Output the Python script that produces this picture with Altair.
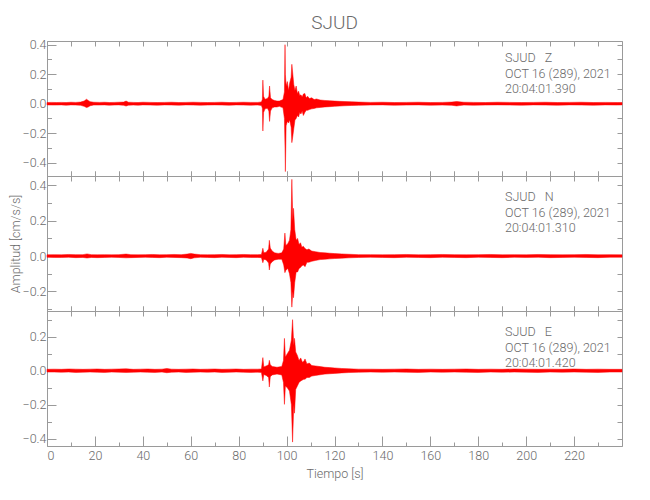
import altair as alt
import pandas as pd

FONT = "Roboto"
FW = 300
TXT = "#6a6a6a"
AX = "#9a9a9a"
RED = "#ff0000"
NB = "\u00a0"

# ---- axis ticks / labels ----
X_LABELS = [0, 20, 40, 60, 80, 100, 120, 140, 160, 180, 200, 220]
X_MINOR = [0, 10, 20, 30, 40, 50, 60, 70, 80, 90, 100, 110, 120, 130, 140, 150, 160, 170, 180, 190, 200, 210, 220, 230, 240]
Y_LABELS = [-0.4, -0.2, 0.0, 0.2, 0.4]
Y_MINOR = [-0.5, -0.4, -0.3, -0.2, -0.1, 0.0, 0.1, 0.2, 0.3, 0.4]
X_DOMAIN = [0, 240]

# ---- channel Z (upper / lower envelope) ----
Z_T = [0, 2, 4, 6, 8, 10, 12, 14, 15.5, 16.5, 17.2, 18, 19.5, 22, 24, 26, 28, 30, 32, 33, 34, 36, 38, 40,
       43, 46, 49, 52, 55, 58, 61, 64, 67, 70, 73, 76, 79, 82, 85, 88,
       89.5, 89.9, 90.1, 90.4, 91, 92, 92.6, 92.9, 93.3, 94, 95, 96, 97, 98.5, 99.1, 99.35, 99.5, 99.8, 100.3, 100.8,
       101.3, 101.9, 102.2, 102.6, 103, 103.5, 104, 104.5, 105, 105.5, 106, 106.5, 107, 107.6, 108.2, 108.8, 109.5,
       110.5, 111.5, 112.5, 114, 116, 118, 120, 122, 124, 127, 130,
       135, 140, 145, 150, 155, 160, 165, 169, 171, 172, 174, 178, 183, 188, 193, 198, 203, 208, 213, 218, 223, 228,
       233, 238, 240]
Z_UP = [0.008, 0.009, 0.008, 0.009, 0.008, 0.010, 0.009, 0.011, 0.018, 0.030, 0.022, 0.014, 0.010, 0.009, 0.010,
        0.008, 0.009, 0.010, 0.011, 0.018, 0.010, 0.009, 0.008, 0.010, 0.009, 0.008, 0.009, 0.010, 0.008, 0.009,
        0.010, 0.009, 0.008, 0.009, 0.010, 0.008, 0.009, 0.010, 0.009, 0.009,
        0.012, 0.030, 0.160, 0.050, 0.030, 0.035, 0.050, 0.120, 0.040, 0.028, 0.022, 0.018, 0.018, 0.028, 0.080,
        0.400, 0.200, 0.120, 0.150, 0.090, 0.140, 0.180, 0.267, 0.200, 0.130, 0.090, 0.120, 0.070, 0.085, 0.055,
        0.060, 0.045, 0.065, 0.070, 0.040, 0.050, 0.035, 0.040, 0.028, 0.032, 0.025, 0.022, 0.020, 0.018, 0.016,
        0.015, 0.013, 0.011,
        0.009, 0.010, 0.008, 0.009, 0.010, 0.008, 0.009, 0.011, 0.015, 0.013, 0.010, 0.009, 0.008, 0.010, 0.009,
        0.008, 0.009, 0.010, 0.008, 0.009, 0.010, 0.008, 0.009, 0.008, 0.008]
Z_LO = [-0.008, -0.009, -0.009, -0.008, -0.010, -0.008, -0.009, -0.011, -0.018, -0.026, -0.022, -0.014, -0.009,
        -0.009, -0.008, -0.010, -0.009, -0.008, -0.011, -0.016, -0.010, -0.009, -0.010, -0.008, -0.009, -0.010,
        -0.008, -0.009, -0.010, -0.008, -0.009, -0.010, -0.009, -0.008, -0.009, -0.010, -0.008, -0.009, -0.010,
        -0.009,
        -0.012, -0.030, -0.185, -0.060, -0.035, -0.030, -0.050, -0.120, -0.050, -0.028, -0.022, -0.022, -0.018,
        -0.028, -0.100, -0.300, -0.460, -0.150, -0.120, -0.130, -0.110, -0.160, -0.264, -0.220, -0.170, -0.110,
        -0.100, -0.080, -0.090, -0.060, -0.070, -0.050, -0.080, -0.060, -0.045, -0.045, -0.040, -0.035, -0.032,
        -0.028, -0.025, -0.022, -0.020, -0.018, -0.016, -0.014, -0.012, -0.011,
        -0.009, -0.008, -0.010, -0.009, -0.008, -0.010, -0.009, -0.011, -0.015, -0.013, -0.009, -0.010, -0.009,
        -0.008, -0.009, -0.010, -0.008, -0.009, -0.010, -0.008, -0.009, -0.010, -0.008, -0.009, -0.008]

# ---- channel N ----
N_T = [0, 3, 6, 9, 12, 15, 16.7, 18.5, 21, 24, 27, 30, 33, 35, 38, 41, 44, 47, 50, 53, 56, 58.5, 60, 61.5, 64,
       67, 70, 73, 76, 79, 82, 85, 88,
       89.5, 90.1, 90.5, 91.5, 92.5, 92.8, 93.2, 94, 95, 96.5, 98, 98.8, 99.3, 99.7, 100.5, 101.2, 101.8, 102.2,
       102.6, 102.9, 103.4, 104, 104.6, 105.2, 105.8, 106.4, 107, 107.7, 108.5, 109.3, 110.5, 112, 114, 116, 118,
       120, 123, 126, 130,
       135, 140, 145, 150, 155, 160, 165, 170, 175, 180, 185, 190, 195, 200, 205, 210, 215, 220, 225, 230, 235, 240]
N_UP = [0.007, 0.008, 0.007, 0.009, 0.008, 0.008, 0.012, 0.008, 0.007, 0.008, 0.007, 0.008, 0.011, 0.008, 0.007,
        0.008, 0.009, 0.007, 0.008, 0.009, 0.008, 0.011, 0.015, 0.011, 0.008, 0.007, 0.008, 0.009, 0.007, 0.008,
        0.009, 0.008, 0.008,
        0.009, 0.044, 0.018, 0.022, 0.040, 0.089, 0.045, 0.028, 0.018, 0.015, 0.018, 0.040, 0.130, 0.060, 0.070,
        0.090, 0.150, 0.434, 0.200, 0.270, 0.150, 0.090, 0.100, 0.065, 0.075, 0.050, 0.055, 0.042, 0.035, 0.040,
        0.028, 0.025, 0.020, 0.018, 0.016, 0.014, 0.012, 0.010, 0.008,
        0.008, 0.007, 0.008, 0.009, 0.007, 0.008, 0.009, 0.008, 0.007, 0.008, 0.009, 0.007, 0.008, 0.007, 0.009,
        0.008, 0.007, 0.008, 0.009, 0.007, 0.008, 0.007]
N_LO = [-0.007, -0.008, -0.008, -0.007, -0.009, -0.008, -0.011, -0.008, -0.009, -0.008, -0.007, -0.008, -0.010,
        -0.009, -0.008, -0.007, -0.008, -0.009, -0.007, -0.008, -0.009, -0.011, -0.015, -0.010, -0.007, -0.008,
        -0.009, -0.007, -0.008, -0.009, -0.007, -0.008, -0.008,
        -0.009, -0.038, -0.018, -0.022, -0.040, -0.079, -0.045, -0.032, -0.022, -0.018, -0.018, -0.050, -0.094,
        -0.080, -0.070, -0.100, -0.150, -0.289, -0.200, -0.236, -0.150, -0.090, -0.090, -0.070, -0.065, -0.055,
        -0.050, -0.060, -0.035, -0.035, -0.030, -0.025, -0.020, -0.018, -0.016, -0.014, -0.012, -0.010, -0.008,
        -0.007, -0.008, -0.009, -0.007, -0.008, -0.009, -0.007, -0.008, -0.009, -0.007, -0.008, -0.009, -0.007,
        -0.008, -0.007, -0.009, -0.008, -0.007, -0.008, -0.009, -0.007, -0.007]

# ---- channel E ----
E_T = [0, 3, 6, 9, 12, 15, 18, 21, 24, 27, 30, 33, 36, 39, 42, 45, 48, 50, 52, 55, 58, 61, 64, 67, 70, 73, 76,
       79, 82, 85, 88,
       89.5, 90.1, 90.5, 91.5, 92.5, 92.8, 93.2, 94, 96, 98, 98.7, 99.1, 99.5, 100.3, 101.2, 102, 102.5, 103, 103.3,
       103.8, 104.5, 105.2, 105.9, 106.6, 107.2, 107.7, 108.5, 109.5, 110.5, 112, 114, 116, 118, 120, 123, 126, 130,
       135, 140, 145, 150, 155, 160, 165, 170, 175, 180, 185, 190, 195, 200, 205, 210, 215, 220, 225, 230, 235, 240]
E_UP = [0.008, 0.009, 0.008, 0.010, 0.009, 0.008, 0.009, 0.010, 0.008, 0.009, 0.010, 0.011, 0.008, 0.009, 0.010,
        0.008, 0.009, 0.013, 0.009, 0.008, 0.009, 0.010, 0.008, 0.009, 0.010, 0.008, 0.009, 0.010, 0.008, 0.009,
        0.009,
        0.010, 0.077, 0.022, 0.028, 0.035, 0.061, 0.035, 0.025, 0.020, 0.025, 0.060, 0.190, 0.080, 0.100, 0.120,
        0.180, 0.300, 0.150, 0.190, 0.110, 0.090, 0.060, 0.075, 0.050, 0.055, 0.069, 0.040, 0.045, 0.030, 0.028,
        0.024, 0.020, 0.018, 0.016, 0.013, 0.011, 0.009,
        0.009, 0.008, 0.009, 0.010, 0.008, 0.009, 0.008, 0.009, 0.010, 0.008, 0.009, 0.008, 0.010, 0.009, 0.008,
        0.009, 0.008, 0.010, 0.008, 0.009, 0.008, 0.008]
E_LO = [-0.008, -0.008, -0.009, -0.008, -0.010, -0.009, -0.008, -0.009, -0.010, -0.008, -0.009, -0.010, -0.009,
        -0.008, -0.009, -0.010, -0.008, -0.012, -0.009, -0.008, -0.010, -0.009, -0.008, -0.009, -0.008, -0.010,
        -0.009, -0.008, -0.009, -0.010, -0.009,
        -0.010, -0.060, -0.022, -0.028, -0.040, -0.096, -0.035, -0.025, -0.020, -0.025, -0.070, -0.198, -0.090,
        -0.100, -0.120, -0.200, -0.420, -0.200, -0.250, -0.110, -0.090, -0.070, -0.060, -0.055, -0.050, -0.050,
        -0.040, -0.040, -0.032, -0.028, -0.024, -0.020, -0.018, -0.016, -0.013, -0.011, -0.009,
        -0.008, -0.009, -0.008, -0.009, -0.010, -0.008, -0.009, -0.008, -0.009, -0.010, -0.008, -0.009, -0.008,
        -0.009, -0.010, -0.008, -0.009, -0.008, -0.009, -0.010, -0.008, -0.008]

Z_DOMAIN = [-0.490, 0.425]
N_DOMAIN = [-0.311, 0.453]
E_DOMAIN = [-0.443, 0.351]

Z_TEXT = ["SJUD" + NB * 3 + "Z", "OCT 16 (289), 2021", "20:04:01.390"]
N_TEXT = ["SJUD" + NB * 3 + "N", "OCT 16 (289), 2021", "20:04:01.310"]
E_TEXT = ["SJUD" + NB * 3 + "E", "OCT 16 (289), 2021", "20:04:01.420"]

W, H = 575, 135


def within(vals, dom):
    return [v for v in vals if dom[0] - 1e-9 <= v <= dom[1] + 1e-9]


def panel(t, up, lo, ydom, lines, text_y, bottom=False, middle=False, top=False):
    df = pd.DataFrame({"t": t, "up": up, "lo": lo})
    xs = alt.Scale(domain=X_DOMAIN, nice=False, zero=False)
    ys = alt.Scale(domain=ydom, nice=False, zero=False)
    base = alt.Chart(df)

    # layer 1: data + labels
    xa = alt.Axis(values=X_LABELS, ticks=False, domain=False, grid=False,
                  labels=bottom, labelFont=FONT, labelFontWeight=FW, labelFontSize=12.5, labelColor=TXT,
                  labelPadding=3, title="Tiempo [s]" if bottom else None,
                  titleFont=FONT, titleFontSize=12.5, titleColor=TXT, titleFontWeight=FW,
                  titlePadding=6)
    ya = alt.Axis(values=within(Y_LABELS, ydom), format=".1f", ticks=False, domain=False, grid=False,
                  labelFont=FONT, labelFontWeight=FW, labelFontSize=12.5, labelColor=TXT, labelPadding=1,
                  title="Amplitud [cm/s/s]" if middle else None,
                  titleFont=FONT, titleFontSize=12.5, titleColor=TXT, titleFontWeight=FW,
                  titlePadding=0)
    data = base.mark_area(color=RED, stroke=RED, strokeWidth=0.5, interpolate="linear").encode(
        x=alt.X("t:Q", scale=xs, axis=xa),
        y=alt.Y("up:Q", scale=ys, axis=ya),
        y2="lo:Q",
    )

    # layer 2: major ticks inward at bottom edge & left edge
    if bottom:
        xb = alt.Axis(orient="top", offset=-H, values=X_LABELS, labels=False, domain=False, grid=False,
                      tickSize=10, tickColor=AX, title=None)
    else:
        xb = alt.Axis(orient="top", offset=-H, values=X_MINOR, labels=False, domain=False, grid=False,
                      tickSize=5, tickColor=AX, title=None)
    yb = alt.Axis(orient="right", offset=-W, values=within(Y_LABELS, ydom), labels=False, domain=False,
                  grid=False, tickSize=9, tickColor=AX, title=None)
    l2 = base.mark_area(opacity=0).encode(
        x=alt.X("t:Q", scale=xs, axis=xb),
        y=alt.Y("up:Q", scale=ys, axis=yb),
    )

    # layer 3: minor ticks inward at bottom edge & left edge
    xc = alt.Axis(orient="top", offset=-H, values=X_MINOR, labels=False, domain=False, grid=False,
                  tickSize=4 if bottom else 5, tickColor=AX, title=None)
    yc = alt.Axis(orient="right", offset=-W, values=within(Y_MINOR, ydom), labels=False, domain=False,
                  grid=False, tickSize=4.5, tickColor=AX, title=None)
    l3 = base.mark_area(opacity=0).encode(
        x=alt.X("t:Q", scale=xs, axis=xc),
        y=alt.Y("up:Q", scale=ys, axis=yc),
    )

    # layer 4: mirrored ticks at top edge & right edge
    xd = alt.Axis(orient="bottom", offset=-H, values=X_MINOR, labels=False, domain=False, grid=False,
                  tickSize=5, tickColor=AX, title=None)
    yd = alt.Axis(orient="left", offset=-W, values=within(Y_MINOR, ydom), labels=False, domain=False,
                  grid=False, tickSize=5, tickColor=AX, title=None)
    l4 = base.mark_area(opacity=0).encode(
        x=alt.X("t:Q", scale=xs, axis=xd),
        y=alt.Y("up:Q", scale=ys, axis=yd),
    )

    txt = alt.Chart(pd.DataFrame({"a": [0]})).mark_text(
        align="left", baseline="middle", font=FONT, fontWeight=FW, fontSize=12.5, color=TXT, lineHeight=15.5
    ).encode(x=alt.value(458), y=alt.value(text_y), text=alt.value(lines))

    ch = alt.layer(data, l2, l3, l4, txt).resolve_scale(x="independent", y="independent")
    props = dict(width=W, height=H)
    if top:
        props["title"] = alt.Title("SJUD", font=FONT, fontSize=19, color=TXT, fontWeight=FW,
                                   anchor="middle", frame="group", offset=6)
    return ch.properties(**props)


p1 = panel(Z_T, Z_UP, Z_LO, Z_DOMAIN, Z_TEXT, 17, top=True)
p2 = panel(N_T, N_UP, N_LO, N_DOMAIN, N_TEXT, 21, middle=True)
p3 = panel(E_T, E_UP, E_LO, E_DOMAIN, E_TEXT, 21, bottom=True)

chart = alt.vconcat(p1, p2, p3, spacing=0, bounds="flush").properties(
    padding={"left": 0, "top": 5, "right": 5, "bottom": 5}
).configure_view(stroke=AX, strokeWidth=1)

chart.save("out.html", embed_options={"renderer": "svg", "actions": False})
